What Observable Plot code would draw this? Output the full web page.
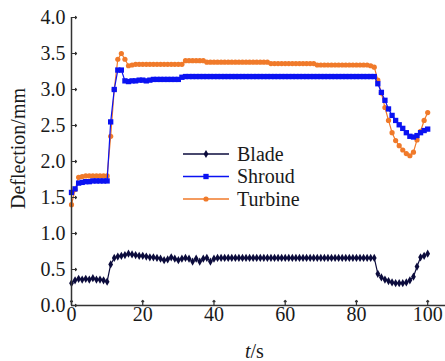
<!DOCTYPE html>
<html><head><meta charset="utf-8">
<script src="https://cdn.jsdelivr.net/npm/d3@7"></script>
<script src="https://cdn.jsdelivr.net/npm/@observablehq/plot@0.6"></script>
<style>
body{margin:0;background:#fff}
svg{display:block}
</style>
</head><body><div id="chart"></div>
<script>
const seriesNames = ["Blade", "Shroud", "Turbine"];
const times = d3.range(0, 101);
const blade = [0.31,0.35,0.37,0.36,0.37,0.36,0.38,0.36,0.36,0.35,
  0.33,0.57,0.66,0.68,0.69,0.70,0.72,0.71,0.70,0.69,
  0.69,0.68,0.67,0.67,0.66,0.65,0.63,0.64,0.67,0.65,
  0.63,0.65,0.66,0.65,0.61,0.65,0.61,0.65,0.66,0.61,
  0.65,0.66,0.66,0.66,0.66,0.66,0.66,0.66,0.66,0.66,
  0.66,0.66,0.66,0.66,0.66,0.66,0.66,0.66,0.66,0.66,
  0.66,0.66,0.66,0.66,0.66,0.66,0.66,0.66,0.66,0.66,
  0.66,0.66,0.66,0.66,0.66,0.66,0.66,0.66,0.66,0.66,
  0.66,0.66,0.66,0.66,0.66,0.66,0.44,0.39,0.36,0.34,
  0.32,0.31,0.31,0.31,0.32,0.35,0.40,0.54,0.67,0.69,0.72];
const shroud = [1.57,1.62,1.70,1.71,1.72,1.72,1.73,1.73,1.73,1.73,
  1.73,2.55,3.00,3.27,3.27,3.12,3.11,3.12,3.12,3.13,
  3.13,3.12,3.13,3.14,3.14,3.14,3.14,3.14,3.14,3.14,
  3.14,3.17,3.18,3.18,3.18,3.18,3.18,3.18,3.18,3.18,
  3.18,3.18,3.18,3.18,3.18,3.18,3.18,3.18,3.18,3.18,
  3.18,3.18,3.18,3.18,3.18,3.18,3.18,3.18,3.18,3.18,
  3.18,3.18,3.18,3.18,3.18,3.18,3.18,3.18,3.18,3.18,
  3.18,3.18,3.18,3.18,3.18,3.18,3.18,3.18,3.18,3.18,
  3.18,3.18,3.18,3.18,3.18,3.18,3.08,2.96,2.85,2.73,
  2.64,2.57,2.51,2.46,2.40,2.35,2.34,2.36,2.40,2.43,2.45];
const turbine = [1.40,1.61,1.78,1.79,1.80,1.80,1.80,1.80,1.80,1.80,
  1.80,2.35,3.00,3.42,3.50,3.42,3.33,3.34,3.35,3.35,
  3.35,3.35,3.35,3.35,3.35,3.35,3.35,3.35,3.35,3.35,
  3.35,3.35,3.40,3.40,3.40,3.40,3.40,3.40,3.38,3.38,
  3.38,3.38,3.38,3.38,3.38,3.38,3.38,3.38,3.38,3.38,
  3.38,3.38,3.38,3.38,3.38,3.38,3.36,3.36,3.36,3.36,
  3.36,3.36,3.36,3.36,3.36,3.36,3.36,3.36,3.36,3.34,
  3.34,3.34,3.34,3.34,3.34,3.34,3.34,3.34,3.34,3.34,
  3.34,3.34,3.34,3.34,3.33,3.31,3.13,2.95,2.75,2.57,
  2.40,2.29,2.22,2.16,2.11,2.08,2.13,2.30,2.42,2.57,2.68];
const xTicks = [0, 20, 40, 60, 80, 100];
const yTicks = [0, 0.5, 1.0, 1.5, 2.0, 2.5, 3.0, 3.5, 4.0];
const xLabel = ["t", "/s"];
const yLabel = "Deflection/mm";

const colors = {Blade: "#0b0b3c", Shroud: "#0a12f2", Turbine: "#f07a2a"};
const symbols = {Blade: "diamond", Shroud: "square", Turbine: "circle"};
const radii = {Blade: 2.5, Shroud: 3.0, Turbine: 2.6};
const values = {Blade: blade, Shroud: shroud, Turbine: turbine};

const drawOrder = ["Turbine", "Shroud", "Blade"];
const seriesMarks = drawOrder.flatMap(name => {
  const rows = times.map((t, i) => ({t, v: values[name][i]}));
  return [
    Plot.line(rows, {x: "t", y: "v", stroke: colors[name], strokeWidth: 1.2}),
    Plot.dot(rows, {x: "t", y: "v", fill: colors[name], symbol: symbols[name], r: radii[name]})
  ];
});

const serif = "'Liberation Serif', 'DejaVu Serif', serif";
const textColor = "#1a1a1a";
const axisColor = "#333";
const chart = Plot.plot({
  width: 445, height: 361,
  marginLeft: 71, marginRight: 0, marginTop: 17, marginBottom: 56,
  style: {background: "#fff", color: textColor, fontFamily: serif, fontSize: "20px"},
  x: {domain: [0, 105], axis: null},
  y: {domain: [0, 4], axis: null},
  marks: [
    ...seriesMarks,
    Plot.ruleY([0], {stroke: axisColor, strokeWidth: 1.5}),
    Plot.ruleX([0], {stroke: axisColor, strokeWidth: 1.5}),
    Plot.vector(xTicks, {x: d => d, y: 0, rotate: 0, length: 5, anchor: "start", stroke: axisColor, strokeWidth: 1.2}),
    Plot.vector(yTicks, {x: 0, y: d => d, rotate: 90, length: 5, anchor: "start", stroke: axisColor, strokeWidth: 1.2}),
    Plot.axisX({ticks: xTicks, tickSize: 0, tickPadding: 1, tickFormat: d => String(d), fill: textColor, label: null}),
    Plot.axisY({ticks: yTicks, tickSize: 0, tickPadding: 6, tickFormat: d => d.toFixed(1), fill: textColor, label: null}),
    Plot.text([yLabel], {frameAnchor: "left", textAnchor: "middle", lineAnchor: "middle", dx: -53, dy: -13, rotate: -90, fill: textColor}),
    Plot.text([xLabel[0]], {frameAnchor: "bottom", lineAnchor: "middle", dx: -8, dy: 46, textAnchor: "end", fontStyle: "italic", fill: textColor}),
    Plot.text([xLabel[1]], {frameAnchor: "bottom", lineAnchor: "middle", dx: -8, dy: 46, textAnchor: "start", fill: textColor})
  ]
});
document.getElementById("chart").appendChild(chart);

// legend
const svg = d3.select(chart);
const lg = svg.append("g").attr("class", "legend").attr("text-anchor", "start");
const legendX = 183, legendW = 46, legendY = 154, legendStep = 22.5;
const symMap = {diamond: d3.symbolDiamond, square: d3.symbolSquare, circle: d3.symbolCircle};
seriesNames.forEach((name, i) => {
  const y = legendY + i * legendStep;
  lg.append("line").attr("x1", legendX).attr("x2", legendX + legendW)
    .attr("y1", y).attr("y2", y).attr("stroke", colors[name]).attr("stroke-width", 1.3);
  lg.append("path").attr("transform", `translate(${legendX + legendW / 2},${y})`)
    .attr("d", d3.symbol(symMap[symbols[name]], Math.PI * radii[name] * radii[name])())
    .attr("fill", colors[name]);
  lg.append("text").attr("x", legendX + legendW + 8).attr("y", y).attr("dy", "0.33em")
    .attr("fill", textColor).text(name);
});
svg.selectAll("text").style("font-family", serif).style("font-size", "20px");
</script>
</body></html>
